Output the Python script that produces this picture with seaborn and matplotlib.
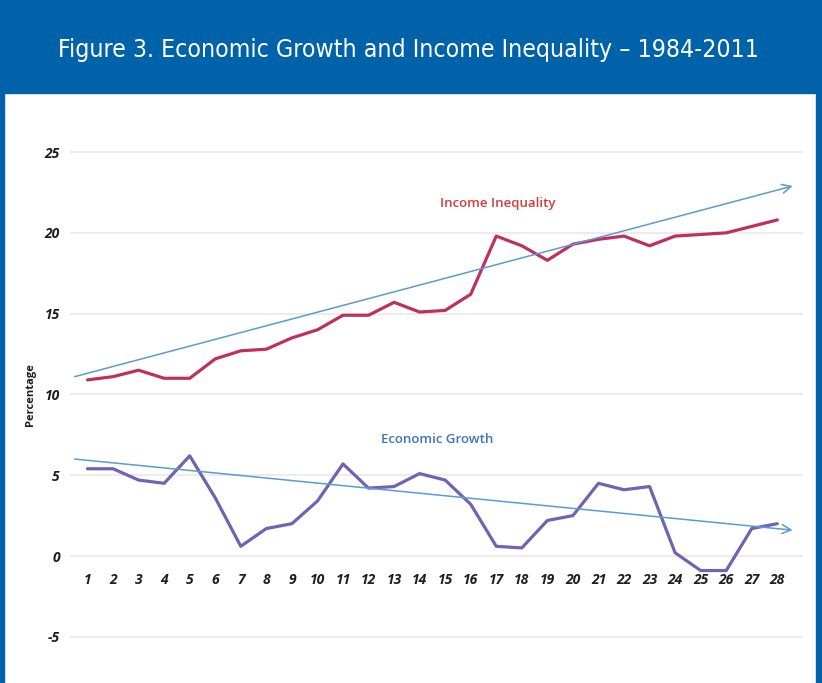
import matplotlib
matplotlib.use("Agg")
import matplotlib.pyplot as plt
from matplotlib.patches import Rectangle
import seaborn as sns
import pandas as pd

# values
years = list(range(1, 29))
income_inequality = [10.9, 11.1, 11.5, 11.0, 11.0, 12.2, 12.7, 12.8, 13.5, 14.0,
                     14.9, 14.9, 15.7, 15.1, 15.2, 16.2, 19.8, 19.2, 18.3, 19.3,
                     19.6, 19.8, 19.2, 19.8, 19.9, 20.0, 20.4, 20.8]
economic_growth = [5.4, 5.4, 4.7, 4.5, 6.2, 3.6, 0.6, 1.7, 2.0, 3.4,
                   5.7, 4.2, 4.3, 5.1, 4.7, 3.2, 0.6, 0.5, 2.2, 2.5,
                   4.5, 4.1, 4.3, 0.2, -0.9, -0.9, 1.7, 2.0]
trend_x = [0.5, 28.6]
income_trend = [11.1, 22.9]
growth_trend = [6.0, 1.6]
y_ticks = [-5, 0, 5, 10, 15, 20, 25]

title = "Figure 3. Economic Growth and Income Inequality \u2013 1984-2011"

df = pd.DataFrame({"year": years,
                   "income": income_inequality,
                   "growth": economic_growth})

sns.set_theme(style="white")
plt.rcParams["font.family"] = ["Open Sans", "DejaVu Sans"]

fig = plt.figure(figsize=(8.22, 6.83), dpi=100)
header_blue = "#0062a8"

# frame and header band
fig.patches.append(Rectangle((0, 0.864), 1, 0.136, transform=fig.transFigure,
                             color=header_blue, zorder=0))
fig.patches.append(Rectangle((0, 0), 0.005, 1, transform=fig.transFigure,
                             color=header_blue, zorder=0))
fig.patches.append(Rectangle((0.993, 0), 0.007, 1, transform=fig.transFigure,
                             color=header_blue, zorder=0))
fig.text(0.497, 0.927, title, color="white", fontsize=17.8, ha="center", va="center",
         family=["DejaVu Sans"], fontstretch="condensed")

ax = fig.add_axes([0.0847, 0.044, 0.892, 0.757])

inc_color = "#c0305c"
gr_color = "#7262b2"
trend_color = "#5b9bd5"

sns.lineplot(data=df, x="year", y="income", ax=ax, color=inc_color, linewidth=2.3, zorder=3)
sns.lineplot(data=df, x="year", y="growth", ax=ax, color=gr_color, linewidth=2.3, zorder=3)

for tr in (income_trend, growth_trend):
    ax.annotate("", xy=(trend_x[1], tr[1]), xytext=(trend_x[0], tr[0]),
                arrowprops=dict(arrowstyle="->", color=trend_color, lw=1.1,
                                shrinkA=0, shrinkB=0, mutation_scale=16), zorder=4)

ax.text(17.05, 21.8, "Income Inequality", color="#d43a3a", fontsize=9.5,
        fontweight="semibold", ha="center", va="center")
ax.text(14.7, 7.2, "Economic Growth", color="#3f72c0", fontsize=9.5,
        fontweight="semibold", ha="center", va="center")

ax.spines["bottom"].set_position(("data", 0))
for s in ax.spines.values():
    s.set_visible(False)

ax.set_xlim(0.3, 29.0)
ax.set_ylim(-6, 26)
ax.set_xticks(years)
ax.set_yticks(y_ticks)
ax.set_xticklabels([str(y) for y in years], fontsize=10, fontweight="bold", style="italic", color="#1e1e1e")
ax.set_yticklabels([str(y) for y in y_ticks], fontsize=10, fontweight="bold", style="italic", color="#1e1e1e")
ax.tick_params(axis="both", length=0)
ax.tick_params(axis="x", pad=12)
ax.tick_params(axis="y", pad=7)

ax.yaxis.grid(True, color="#ebe7e7", linewidth=1.2)
ax.set_axisbelow(True)

ax.set_xlabel("")
ax.set_ylabel("Percentage", fontsize=8, fontweight="bold", color="#1e1e1e", labelpad=6)

fig.savefig("out.png", dpi=100)
